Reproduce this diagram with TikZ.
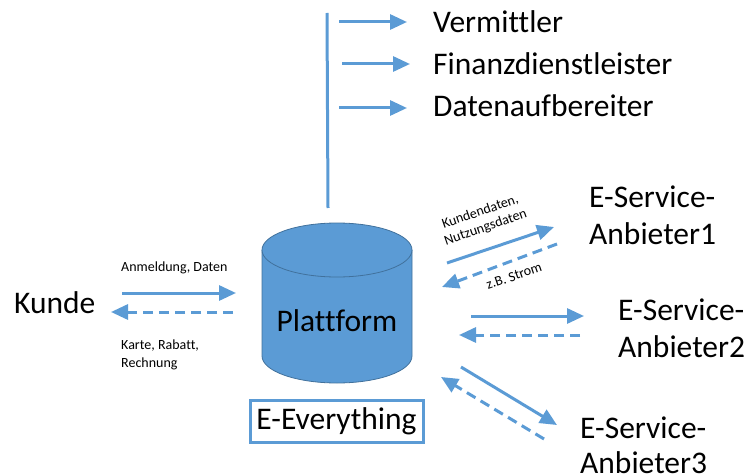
\documentclass[tikz,border=0pt]{standalone}
\usepackage{fontspec}
\setmainfont{Carlito}[Ligatures=NoCommon]
\usetikzlibrary{arrows.meta}
\definecolor{mblue}{HTML}{5B9BD5}
\definecolor{dblue}{HTML}{41719C}
\tikzset{
  big/.style={font=\fontsize{31.5}{37}\selectfont, inner sep=0pt},
  small/.style={font=\fontsize{14}{16.5}\selectfont, inner sep=0pt},
  arr/.style={draw=mblue, line width=3pt, -{Triangle[length=17pt,width=15pt]}},
  darr/.style={arr, dash pattern=on 10pt off 6pt},
}
\begin{document}
\begin{tikzpicture}[x=1pt,y=-1pt]
\useasboundingbox (0,0) rectangle (749,476);
% vertical line and top arrows
\coordinate (v1) at (327,13);
\coordinate (v2) at (328,208);
\draw[mblue, line width=3pt] (v1) -- (v2);
\coordinate (a1s) at (339,22); \coordinate (a1e) at (407,22);
\coordinate (a2s) at (342,64); \coordinate (a2e) at (410,64);
\coordinate (a3s) at (339,108); \coordinate (a3e) at (407,108);
\draw[arr] (a1s) -- (a1e);
\draw[arr] (a2s) -- (a2e);
\draw[arr] (a3s) -- (a3e);
\node[big, anchor=base west] (verm) at (433,33) {Vermittler};
\node[big, anchor=base west] (fin) at (433,75) {Finanzdienstleister};
\node[big, anchor=base west] (dat) at (433,117) {Datenaufbereiter};
% cylinder
\fill[mblue] (262,250) -- (262,356) arc[start angle=180, end angle=0, x radius=75, y radius=27] -- (412,250) -- cycle;
\draw[dblue, line width=0.8pt] (262,250) -- (262,356) arc[start angle=180, end angle=0, x radius=75, y radius=27] -- (412,250);
\draw[dblue, line width=0.8pt, fill=mblue] (337,250) ellipse[x radius=75, y radius=27];
\node[big, anchor=base] (platt) at (337,331) {Plattform};
% E-Everything box
\node[big, draw=mblue, line width=3pt, minimum width=173pt, minimum height=42pt, anchor=center] (ee) at (336.5,421) {E-Everything};
% Kunde
\node[big, anchor=base west] (kunde) at (14,313) {Kunde};
\coordinate (k1s) at (122,293); \coordinate (k1e) at (236,293);
\coordinate (k2s) at (233,312); \coordinate (k2e) at (111,312);
\draw[arr] (k1s) -- (k1e);
\draw[darr] (k2s) -- (k2e);
\node[small, anchor=base west] (anm) at (121,271) {Anmeldung, Daten};
\node[small, anchor=base west] (karte) at (121,349) {Karte, Rabatt,};
\node[small, anchor=base west] (rech) at (121,367) {Rechnung};
% Anbieter 1
\node[big, anchor=base west] (an1a) at (589,207) {E-Service-};
\node[big, anchor=base west] (an1b) at (589,244) {Anbieter1};
\coordinate (b1s) at (447,263); \coordinate (b1e) at (554,227);
\coordinate (c1s) at (557,244); \coordinate (c1e) at (442,287);
\draw[arr] (b1s) -- (b1e);
\draw[darr] (c1s) -- (c1e);
\node[small, align=center, rotate=19] (kd) at (483,220) {Kundendaten,\\Nutzungsdaten};
\node[small, rotate=19] (zb) at (514,276) {z.B. Strom};
% Anbieter 2
\node[big, anchor=base west] (an2a) at (618,320) {E-Service-};
\node[big, anchor=base west] (an2b) at (618,357) {Anbieter2};
\coordinate (b2s) at (471,316); \coordinate (b2e) at (584,316);
\coordinate (c2s) at (580,335); \coordinate (c2e) at (459,335);
\draw[arr] (b2s) -- (b2e);
\draw[darr] (c2s) -- (c2e);
% Anbieter 3
\node[big, anchor=base west] (an3a) at (580,438) {E-Service-};
\node[big, anchor=base west] (an3b) at (580,473) {Anbieter3};
\coordinate (b3s) at (461,367); \coordinate (b3e) at (557,425);
\coordinate (c3s) at (544,439); \coordinate (c3e) at (441,377);
\draw[arr] (b3s) -- (b3e);
\draw[darr] (c3s) -- (c3e);
\end{tikzpicture}
\end{document}
